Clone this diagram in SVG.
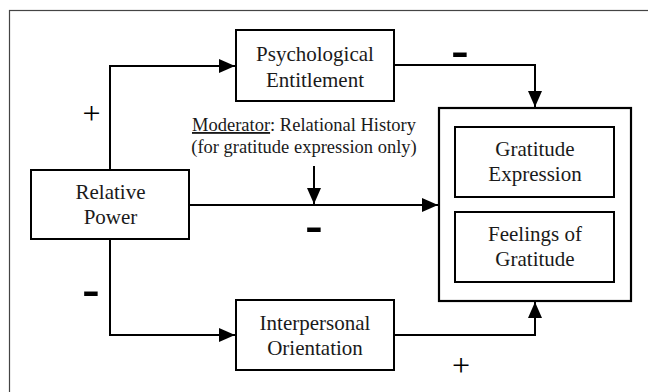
<svg xmlns="http://www.w3.org/2000/svg" width="648" height="392" viewBox="0 0 648 392" font-family="Liberation Serif, Tinos, Times New Roman, serif">
<defs>
<marker id="ah" markerUnits="userSpaceOnUse" markerWidth="16" markerHeight="14" viewBox="0 0 16 14" refX="16" refY="7" orient="auto">
<path d="M0,0 L16,7 L0,14 z" fill="#000"/>
</marker>
</defs>
<rect x="0" y="0" width="648" height="392" fill="#fff"/>
<rect x="9.5" y="10.5" width="700" height="500" fill="none" stroke="#444" stroke-width="1.2"/>
<g id="connectors" fill="none" stroke="#000" stroke-width="2">
<path d="M110,169 V66 H235" marker-end="url(#ah)"/>
<path d="M190,205 H438" marker-end="url(#ah)"/>
<path d="M394,65 H535 V107" marker-end="url(#ah)"/>
<path d="M110,239 V335 H235" marker-end="url(#ah)"/>
<path d="M394,335 H535 V302" marker-end="url(#ah)"/>
<path d="M314,166 V204" marker-end="url(#ah)"/>
</g>
<g id="psychological-entitlement">
<rect x="236" y="30" width="158" height="71" fill="#fff" stroke="#000" stroke-width="2"/>
<text font-family="Liberation Serif, Tinos, serif" font-size="21" fill="#1a1a1a" text-anchor="middle" x="315" y="61">Psychological</text>
<text font-family="Liberation Serif, Tinos, serif" font-size="21" fill="#1a1a1a" text-anchor="middle" x="315" y="87">Entitlement</text>
</g>
<g id="relative-power">
<rect x="31" y="170" width="158" height="69" fill="#fff" stroke="#000" stroke-width="2"/>
<text font-family="Liberation Serif, Tinos, serif" font-size="21" fill="#1a1a1a" text-anchor="middle" x="110.5" y="199">Relative</text>
<text font-family="Liberation Serif, Tinos, serif" font-size="21" fill="#1a1a1a" text-anchor="middle" x="110.5" y="224">Power</text>
</g>
<g id="interpersonal-orientation">
<rect x="236" y="300" width="158" height="70" fill="#fff" stroke="#000" stroke-width="2"/>
<text font-family="Liberation Serif, Tinos, serif" font-size="21" fill="#1a1a1a" text-anchor="middle" x="315" y="330">Interpersonal</text>
<text font-family="Liberation Serif, Tinos, serif" font-size="21" fill="#1a1a1a" text-anchor="middle" x="315" y="355">Orientation</text>
</g>
<g id="outcomes">
<rect x="439" y="108" width="192" height="193" fill="#fff" stroke="#000" stroke-width="2.2"/>
</g>
<g id="gratitude-expression">
<rect x="455" y="127" width="159" height="70" fill="#fff" stroke="#000" stroke-width="2"/>
<text font-family="Liberation Serif, Tinos, serif" font-size="21" fill="#1a1a1a" text-anchor="middle" x="535" y="156">Gratitude</text>
<text font-family="Liberation Serif, Tinos, serif" font-size="21" fill="#1a1a1a" text-anchor="middle" x="535" y="181">Expression</text>
</g>
<g id="feelings-of-gratitude">
<rect x="455" y="212" width="159" height="70" fill="#fff" stroke="#000" stroke-width="2"/>
<text font-family="Liberation Serif, Tinos, serif" font-size="21" fill="#1a1a1a" text-anchor="middle" x="535" y="241">Feelings of</text>
<text font-family="Liberation Serif, Tinos, serif" font-size="21" fill="#1a1a1a" text-anchor="middle" x="535" y="266">Gratitude</text>
</g>
<g id="moderator">
<text font-family="Liberation Serif, Tinos, serif" font-size="18.5" fill="#1a1a1a" text-anchor="middle" x="304" y="131"><tspan text-decoration="underline">Moderator</tspan>: Relational History</text>
<text font-family="Liberation Serif, Tinos, serif" font-size="18.5" fill="#1a1a1a" text-anchor="middle" x="304" y="153">(for gratitude expression only)</text>
</g>
<g id="signs">
<text font-family="Liberation Serif, Tinos, serif" font-size="32" fill="#000" text-anchor="middle" x="91.5" y="124">+</text>
<text font-family="Liberation Serif, Tinos, serif" font-size="32" fill="#000" text-anchor="middle" x="461" y="376">+</text>
<text font-family="Liberation Serif, Tinos, serif" font-weight="bold" font-size="52" fill="#000" text-anchor="middle" x="460" y="66.5">-</text>
<text font-family="Liberation Serif, Tinos, serif" font-weight="bold" font-size="52" fill="#000" text-anchor="middle" x="314" y="241.5">-</text>
<text font-family="Liberation Serif, Tinos, serif" font-weight="bold" font-size="52" fill="#000" text-anchor="middle" x="91" y="305.5">-</text>
</g>
</svg>
